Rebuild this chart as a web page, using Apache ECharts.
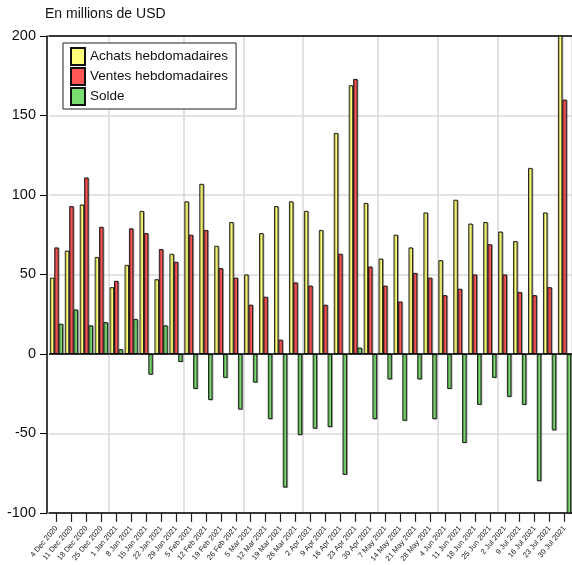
<!DOCTYPE html>
<html>
<head>
<meta charset="utf-8">
<script src="https://cdn.jsdelivr.net/npm/echarts@6/dist/echarts.min.js"></script>
<style>
html,body{margin:0;padding:0;background:#fff;}
#chart{width:572px;height:565px;}
</style>
</head>
<body>
<div id="chart"></div>
<script>
var categories = ['4 Dec 2020','11 Dec 2020','18 Dec 2020','25 Dec 2020','1 Jan 2021','8 Jan 2021','15 Jan 2021','22 Jan 2021','29 Jan 2021','5 Feb 2021','12 Feb 2021','19 Feb 2021','26 Feb 2021','5 Mar 2021','12 Mar 2021','19 Mar 2021','26 Mar 2021','2 Apr 2021','9 Apr 2021','16 Apr 2021','23 Apr 2021','30 Apr 2021','7 May 2021','14 May 2021','21 May 2021','28 May 2021','4 Jun 2021','11 Jun 2021','18 Jun 2021','25 Jun 2021','2 Jul 2021','9 Jul 2021','16 Jul 2021','23 Jul 2021','30 Jul 2021'];
var achats = [48, 65, 94, 61, 42, 56, 90, 47, 63, 96, 107, 68, 83, 50, 76, 93, 96, 90, 78, 139, 169, 95, 60, 75, 67, 89, 59, 97, 82, 83, 77, 71, 117, 89, 265];
var ventes = [67, 93, 111, 80, 46, 79, 76, 66, 58, 75, 78, 54, 48, 31, 36, 9, 45, 43, 31, 63, 173, 55, 43, 33, 51, 48, 37, 41, 50, 69, 50, 39, 37, 42, 160];
var solde = [19, 28, 18, 20, 3, 22, -13, 18, -5, -22, -29, -15, -35, -18, -41, -84, -51, -47, -46, -76, 4, -41, -16, -42, -16, -41, -22, -56, -32, -15, -27, -32, -80, -48, -105];
var yTicks = {min: -100, max: 200, interval: 50};
var seriesNames = ['Achats hebdomadaires', 'Ventes hebdomadaires', 'Solde'];
var unitLabel = 'En millions de USD';

var FONT = "'Liberation Sans', Arial, sans-serif";
var colors = ['#FFFF78', '#FF5555', '#7ADB6E'];

function monthOf(c){ return c.split(' ')[1]; }

function barSeries(name, data, color, extra){
  var s = {
    name: name, type: 'bar', data: data, xAxisIndex: 0, yAxisIndex: 0,
    barGap: '0%', barCategoryGap: '12%',
    itemStyle: {color: color, borderColor: '#111', borderWidth: 0.9,
      shadowColor: 'rgba(0,0,0,0.3)', shadowOffsetX: 1, shadowOffsetY: 0.5, shadowBlur: 0},
    emphasis: {disabled: true},
    clip: true
  };
  if (extra) for (var k in extra) s[k] = extra[k];
  return s;
}

var chart = echarts.init(document.getElementById('chart'), null, {renderer: 'canvas'});
chart.setOption({
  animation: false,
  backgroundColor: '#fff',
  textStyle: {fontFamily: FONT},
  title: {
    text: unitLabel, left: 40, top: 2,
    textStyle: {fontFamily: FONT, fontSize: 14, fontWeight: 'normal', color: '#111'}
  },
  legend: {
    orient: 'vertical', left: 63, top: 43,
    itemWidth: 14, itemHeight: 17, itemGap: 1,
    padding: [4, 8, 3, 7],
    borderColor: '#222', borderWidth: 1, backgroundColor: '#fff',
    textStyle: {fontFamily: FONT, fontSize: 13.5, color: '#111'},
    data: seriesNames.map(function(n){ return {name: n, icon: 'rect', itemStyle: {shadowOffsetX: 0, shadowOffsetY: 0, shadowColor: 'transparent'}}; })
  },
  grid: {left: 49, right: 0, top: 36, bottom: 52, containLabel: false},
  xAxis: [{
    type: 'category', data: categories, position: 'bottom',
    axisLine: {onZero: false, lineStyle: {color: '#000', width: 1.5}},
    axisTick: {show: true, alignWithLabel: true, length: 9, lineStyle: {color: '#222', width: 1.2}},
    axisLabel: {interval: 0, rotate: 50, fontSize: 7.5, color: '#222', fontFamily: FONT, margin: 14},
    splitLine: {
      show: true,
      interval: function(index, value){ return index > 0 && monthOf(categories[index]) !== monthOf(categories[index-1]); },
      lineStyle: {color: '#dadada', width: 1.5}
    }
  }, {
    type: 'category', data: categories, position: 'top',
    axisLine: {onZero: false, lineStyle: {color: '#000', width: 1.5}},
    axisTick: {show: false}, axisLabel: {show: false}, splitLine: {show: false}
  }],
  yAxis: {
    type: 'value', min: yTicks.min, max: yTicks.max, interval: yTicks.interval, offset: 2,
    axisLine: {show: true, lineStyle: {color: '#000', width: 1.5}},
    axisTick: {show: true, length: 7, lineStyle: {color: '#000', width: 1}},
    axisLabel: {fontSize: 14.5, color: '#111', fontFamily: FONT, margin: 11},
    splitLine: {show: true, lineStyle: {color: '#dadada', width: 1.5}}
  },
  series: [
    barSeries(seriesNames[0], achats, colors[0]),
    barSeries(seriesNames[1], ventes, colors[1]),
    barSeries(seriesNames[2], solde, colors[2], {
      markLine: {
        silent: true, symbol: 'none', label: {show: false},
        lineStyle: {color: '#000', width: 1.5, type: 'solid'},
        data: [{yAxis: 0}]
      }
    })
  ]
});
</script>
</body>
</html>
